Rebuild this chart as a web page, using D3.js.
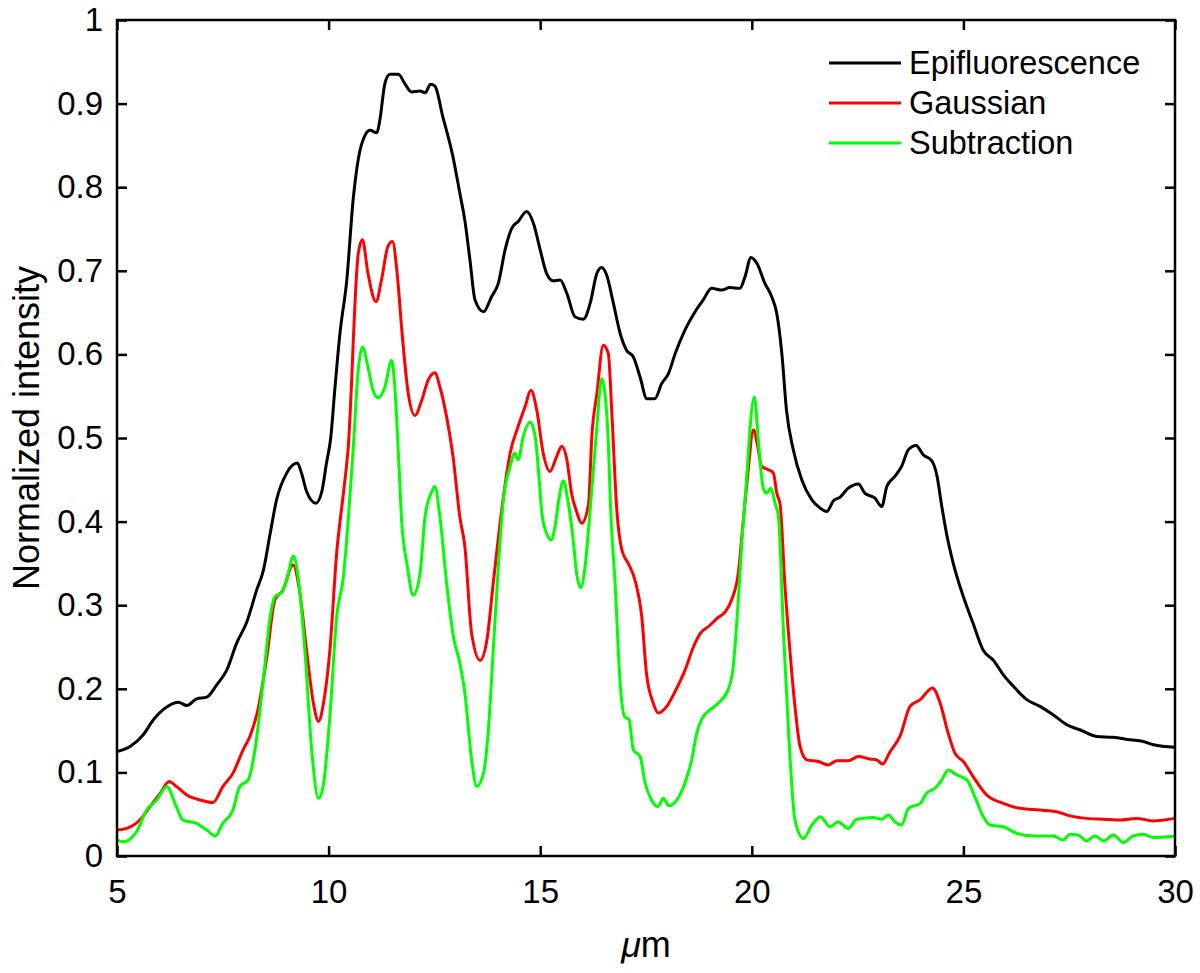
<!DOCTYPE html>
<html>
<head>
  <title>Normalized intensity profiles</title>
  <script src="https://d3js.org/d3.v7.min.js"></script>
  <style>
    body { margin: 0; background: #fff; }
    svg text { font-family: "Liberation Sans", Arial, Helvetica, sans-serif; fill: #000; }
    .tick line { stroke: #000; stroke-width: 2.5; }
    .line { fill: none; stroke-width: 3; stroke-linejoin: round; }
  </style>
</head>
<body>
  <svg id="chart"></svg>

  <script>
    // series values, [µm, intensity]
    var epifluorescence = [
      [5.0,0.125],[5.31,0.131],[5.62,0.145],[5.86,0.163],[6.09,0.175],[6.45,0.184],[6.65,0.180],
      [6.88,0.188],[7.12,0.190],[7.36,0.205],[7.59,0.222],[7.83,0.255],[8.06,0.279],[8.30,0.318],
      [8.46,0.342],[8.62,0.386],[8.77,0.426],[9.01,0.458],[9.26,0.470],[9.36,0.458],[9.48,0.436],
      [9.70,0.422],[9.84,0.436],[9.95,0.470],[10.05,0.500],[10.15,0.560],[10.27,0.626],[10.43,0.689],
      [10.58,0.785],[10.70,0.833],[10.86,0.862],[10.98,0.868],[11.14,0.865],[11.21,0.880],[11.33,0.924],
      [11.45,0.935],[11.65,0.935],[11.80,0.924],[11.96,0.914],[12.16,0.915],[12.28,0.913],[12.41,0.923],
      [12.51,0.921],[12.70,0.884],[12.94,0.836],[13.10,0.793],[13.22,0.760],[13.34,0.713],[13.46,0.665],
      [13.66,0.651],[13.85,0.669],[14.01,0.685],[14.17,0.725],[14.33,0.751],[14.48,0.759],[14.68,0.771],
      [14.84,0.757],[15.00,0.725],[15.15,0.697],[15.31,0.688],[15.47,0.689],[15.63,0.673],[15.82,0.645],
      [16.02,0.642],[16.18,0.661],[16.34,0.697],[16.45,0.704],[16.57,0.695],[16.73,0.661],[16.89,0.625],
      [17.04,0.605],[17.20,0.597],[17.36,0.573],[17.52,0.547],[17.71,0.547],[17.87,0.565],[18.03,0.577],
      [18.19,0.601],[18.42,0.629],[18.66,0.651],[18.85,0.665],[19.05,0.679],[19.29,0.677],[19.48,0.680],
      [19.72,0.679],[19.84,0.693],[19.98,0.716],[20.12,0.709],[20.31,0.685],[20.47,0.669],[20.59,0.649],
      [20.71,0.601],[20.82,0.533],[20.98,0.486],[21.18,0.450],[21.42,0.426],[21.62,0.416],[21.77,0.412],
      [21.93,0.425],[22.08,0.429],[22.28,0.440],[22.52,0.445],[22.67,0.434],[22.91,0.428],[23.07,0.418],
      [23.19,0.442],[23.38,0.454],[23.54,0.466],[23.70,0.486],[23.88,0.491],[24.05,0.480],[24.25,0.473],
      [24.37,0.456],[24.49,0.418],[24.60,0.386],[24.76,0.350],[25.00,0.310],[25.23,0.278],[25.47,0.246],
      [25.71,0.234],[25.94,0.217],[26.18,0.203],[26.50,0.187],[26.81,0.179],[27.12,0.169],[27.44,0.157],
      [27.75,0.151],[28.15,0.143],[28.54,0.142],[28.94,0.139],[29.25,0.137],[29.49,0.133],[30.0,0.130]
    ];

    var gaussian = [
      [5.0,0.031],[5.23,0.033],[5.54,0.043],[5.78,0.059],[6.02,0.075],[6.23,0.089],[6.41,0.083],
      [6.65,0.073],[6.96,0.067],[7.27,0.064],[7.50,0.083],[7.74,0.099],[7.98,0.127],[8.14,0.143],
      [8.33,0.175],[8.54,0.238],[8.73,0.306],[8.92,0.318],[9.16,0.348],[9.32,0.315],[9.48,0.246],
      [9.64,0.183],[9.76,0.161],[9.88,0.183],[10.03,0.246],[10.19,0.362],[10.35,0.434],[10.46,0.486],
      [10.70,0.720],[10.80,0.737],[10.93,0.697],[11.12,0.663],[11.25,0.689],[11.40,0.729],[11.51,0.735],
      [11.62,0.697],[11.73,0.629],[11.88,0.554],[12.04,0.527],[12.20,0.545],[12.35,0.569],[12.51,0.578],
      [12.63,0.561],[12.79,0.525],[12.94,0.478],[13.10,0.406],[13.22,0.370],[13.38,0.266],[13.58,0.234],
      [13.74,0.258],[13.89,0.326],[14.09,0.414],[14.29,0.482],[14.48,0.514],[14.64,0.537],[14.78,0.557],
      [14.92,0.533],[15.07,0.482],[15.23,0.460],[15.39,0.478],[15.51,0.490],[15.63,0.474],[15.74,0.434],
      [15.86,0.412],[15.98,0.398],[16.14,0.420],[16.22,0.502],[16.34,0.553],[16.49,0.611],[16.61,0.601],
      [16.69,0.533],[16.81,0.414],[16.93,0.366],[17.08,0.350],[17.24,0.330],[17.40,0.286],[17.51,0.219],
      [17.67,0.183],[17.79,0.171],[17.99,0.179],[18.19,0.197],[18.42,0.222],[18.62,0.250],[18.78,0.266],
      [19.01,0.276],[19.17,0.284],[19.37,0.292],[19.52,0.306],[19.68,0.338],[19.80,0.402],[19.90,0.454],
      [20.04,0.510],[20.14,0.490],[20.23,0.466],[20.39,0.462],[20.51,0.458],[20.59,0.434],[20.67,0.420],
      [20.78,0.326],[20.90,0.246],[21.02,0.179],[21.14,0.131],[21.30,0.115],[21.57,0.113],[21.81,0.109],
      [22.01,0.114],[22.28,0.114],[22.52,0.119],[22.79,0.116],[22.95,0.115],[23.09,0.110],[23.27,0.125],
      [23.50,0.143],[23.74,0.179],[23.98,0.187],[24.27,0.201],[24.45,0.183],[24.64,0.147],[24.80,0.123],
      [25.00,0.113],[25.23,0.095],[25.55,0.073],[25.94,0.063],[26.34,0.057],[26.81,0.055],[27.20,0.053],
      [27.52,0.048],[27.91,0.045],[28.31,0.044],[28.70,0.043],[29.09,0.045],[29.49,0.042],[30.0,0.045]
    ];

    var subtraction = [
      [5.0,0.019],[5.15,0.017],[5.46,0.029],[5.70,0.055],[5.94,0.067],[6.18,0.083],[6.37,0.063],
      [6.56,0.043],[6.88,0.039],[7.12,0.031],[7.32,0.024],[7.50,0.039],[7.74,0.055],[7.90,0.083],
      [8.10,0.091],[8.26,0.127],[8.45,0.207],[8.62,0.286],[8.73,0.310],[8.89,0.315],[9.01,0.330],
      [9.17,0.359],[9.28,0.334],[9.44,0.246],[9.60,0.127],[9.76,0.069],[9.87,0.083],[10.03,0.167],
      [10.19,0.286],[10.35,0.334],[10.47,0.406],[10.58,0.486],[10.70,0.581],[10.80,0.609],[10.93,0.585],
      [11.05,0.557],[11.17,0.548],[11.33,0.561],[11.49,0.593],[11.57,0.557],[11.65,0.480],[11.73,0.398],
      [11.85,0.350],[12.00,0.312],[12.16,0.338],[12.28,0.406],[12.44,0.436],[12.51,0.442],[12.63,0.406],
      [12.79,0.326],[12.95,0.262],[13.10,0.231],[13.22,0.195],[13.38,0.115],[13.50,0.083],[13.66,0.099],
      [13.77,0.147],[13.89,0.246],[14.01,0.346],[14.13,0.426],[14.29,0.466],[14.39,0.482],[14.48,0.474],
      [14.60,0.502],[14.76,0.519],[14.88,0.502],[14.97,0.454],[15.04,0.410],[15.15,0.386],[15.26,0.378],
      [15.35,0.394],[15.44,0.426],[15.55,0.449],[15.66,0.423],[15.78,0.378],[15.86,0.338],[15.96,0.321],
      [16.06,0.346],[16.18,0.414],[16.34,0.514],[16.45,0.571],[16.53,0.553],[16.61,0.494],[16.66,0.420],
      [16.77,0.326],[16.89,0.206],[16.99,0.167],[17.10,0.163],[17.20,0.127],[17.36,0.119],[17.48,0.087],
      [17.63,0.067],[17.78,0.059],[17.91,0.069],[18.04,0.060],[18.23,0.067],[18.42,0.087],[18.58,0.115],
      [18.70,0.147],[18.83,0.165],[18.97,0.173],[19.21,0.183],[19.44,0.199],[19.56,0.226],[19.68,0.306],
      [19.78,0.386],[19.84,0.426],[20.06,0.549],[20.16,0.494],[20.27,0.440],[20.35,0.434],[20.45,0.440],
      [20.55,0.422],[20.63,0.406],[20.75,0.266],[20.87,0.147],[21.02,0.043],[21.22,0.021],[21.42,0.037],
      [21.62,0.047],[21.85,0.035],[22.04,0.041],[22.28,0.033],[22.48,0.044],[22.87,0.046],[23.07,0.044],
      [23.23,0.049],[23.38,0.041],[23.54,0.037],[23.70,0.057],[23.98,0.063],[24.13,0.075],[24.33,0.081],
      [24.49,0.091],[24.64,0.103],[24.84,0.097],[25.08,0.091],[25.27,0.071],[25.47,0.047],[25.63,0.037],
      [25.94,0.035],[26.26,0.027],[26.65,0.024],[27.12,0.024],[27.36,0.019],[27.52,0.026],[27.72,0.025],
      [27.91,0.018],[28.11,0.024],[28.31,0.018],[28.54,0.025],[28.78,0.016],[29.01,0.024],[29.25,0.026],
      [29.49,0.022],[30.0,0.024]
    ];

    var seriesNames = ['Epifluorescence', 'Gaussian', 'Subtraction'];
    var seriesColors = ['#000000', '#ff0000', '#00ff00'];
    var xTicks = [5, 10, 15, 20, 25, 30];
    var yTicks = [0, 0.1, 0.2, 0.3, 0.4, 0.5, 0.6, 0.7, 0.8, 0.9, 1];
    var yTickLabels = ['0', '0.1', '0.2', '0.3', '0.4', '0.5', '0.6', '0.7', '0.8', '0.9', '1'];

    var svgWidth = 1200;
    var svgHeight = 973;
    var margin = { top: 20, right: 25, bottom: 117, left: 117 };
    var width = svgWidth - margin.left - margin.right;
    var height = svgHeight - margin.top - margin.bottom;

    var svg = d3.select('#chart')
      .attr('width', svgWidth)
      .attr('height', svgHeight);

    var g = svg.append('g')
      .attr('transform', 'translate(' + margin.left + ',' + margin.top + ')');

    var x = d3.scaleLinear().domain([5, 30]).range([0, width]);
    var y = d3.scaleLinear().domain([0, 1]).range([height, 0]);

    var line = d3.line()
      .curve(d3.curveMonotoneX)
      .x(function(d) { return x(d[0]); })
      .y(function(d) { return y(d[1]); });

    // curves
    [epifluorescence, gaussian, subtraction].forEach(function(data, i) {
      g.append('path')
        .datum(data)
        .attr('class', 'line')
        .attr('stroke', seriesColors[i])
        .attr('d', line);
    });

    // axes, ticks pointing inward on all four sides
    g.append('g')
      .attr('transform', 'translate(0,' + height + ')')
      .call(d3.axisBottom(x).tickValues(xTicks).tickSizeInner(-10).tickSizeOuter(0).tickPadding(24));
    g.append('g')
      .call(d3.axisLeft(y).tickValues(yTicks).tickFormat(function(d, i) { return yTickLabels[i]; })
        .tickSizeInner(-10).tickSizeOuter(0).tickPadding(14));
    g.append('g')
      .call(d3.axisTop(x).tickValues(xTicks).tickFormat('').tickSizeInner(-10).tickSizeOuter(0));
    g.append('g')
      .attr('transform', 'translate(' + width + ',0)')
      .call(d3.axisRight(y).tickValues(yTicks).tickFormat('').tickSizeInner(-10).tickSizeOuter(0));

    g.selectAll('.domain').remove();
    g.selectAll('.tick text').style('font-size', '33px').style('font-family', null);

    g.append('rect')
      .attr('width', width)
      .attr('height', height)
      .attr('fill', 'none')
      .attr('stroke', '#000')
      .attr('stroke-width', 2.5);

    // axis labels
    g.append('text')
      .attr('x', width / 2)
      .attr('y', height + 101)
      .attr('text-anchor', 'middle')
      .style('font-size', '36px')
      .html('<tspan font-style="italic">&#956;</tspan>m');

    g.append('text')
      .attr('transform', 'translate(' + (-78) + ',' + (height / 2 - 10) + ') rotate(-90)')
      .attr('text-anchor', 'middle')
      .style('font-size', '36px')
      .text('Normalized intensity');

    // legend
    var legend = g.append('g')
      .attr('transform', 'translate(' + (829 - margin.left) + ',' + (63 - margin.top) + ')');

    seriesNames.forEach(function(name, i) {
      var row = legend.append('g').attr('transform', 'translate(0,' + (i * 40) + ')');
      row.append('line')
        .attr('x1', 0).attr('x2', 72)
        .attr('stroke', seriesColors[i])
        .attr('stroke-width', 3);
      row.append('text')
        .attr('x', 80)
        .attr('dy', '0.35em')
        .style('font-size', '32.5px')
        .text(name);
    });
  </script>
</body>
</html>
